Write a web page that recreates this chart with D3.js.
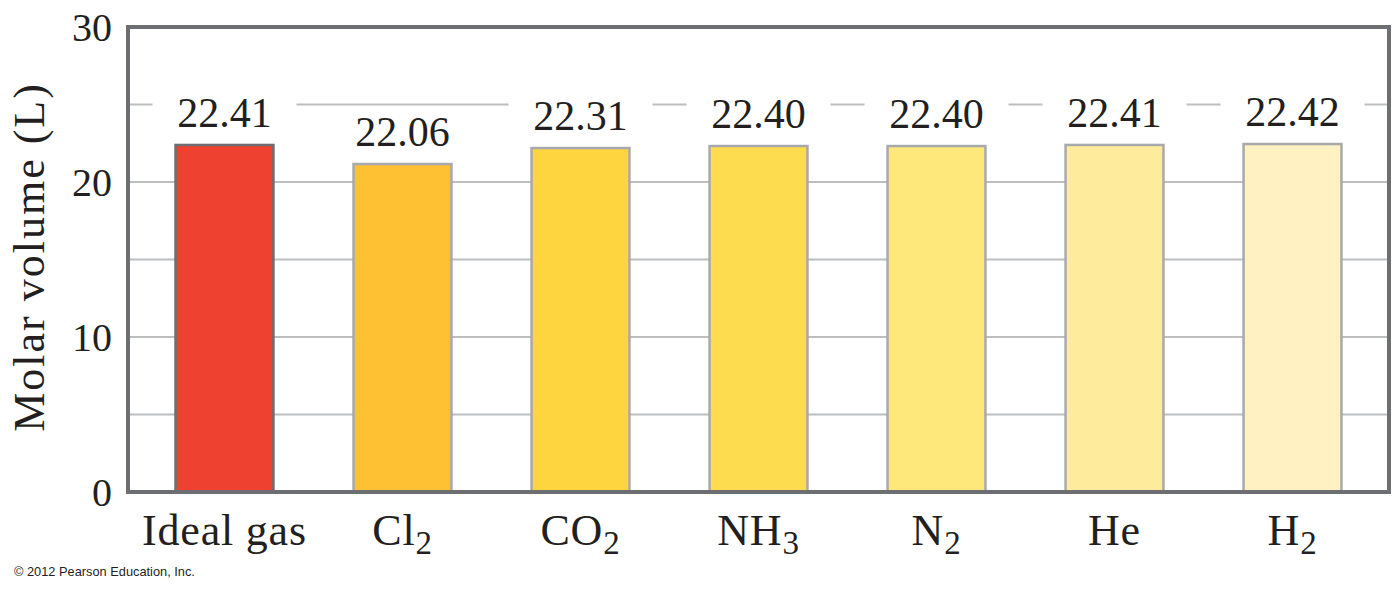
<!DOCTYPE html>
<html>
<head>
<meta charset="utf-8">
<script src="https://cdn.jsdelivr.net/npm/d3@7/dist/d3.min.js"></script>
<style>
	body { margin: 0; background: #fff; }
	text { font-family: "Liberation Serif", "Times New Roman", serif; fill: #231f20; }
</style>
</head>
<body>
<svg id="viz"></svg>
<script>
// categories, split into base text and subscript
var gasNames = ["Ideal gas", "Cl", "CO", "NH", "N", "He", "H"];
var gasSubs = ["", "2", "2", "3", "2", "", "2"];
// bar heights as drawn in the picture, and the printed values
var barValues = [22.39, 21.16, 22.19, 22.32, 22.32, 22.39, 22.45];
var valueLabels = ["22.41", "22.06", "22.31", "22.40", "22.40", "22.41", "22.42"];
var barColors = ["#ef4130", "#fec133", "#ffd53f", "#fedc50", "#fee77b", "#feec9c", "#fff1c1"];
var yTicks = [0, 10, 20, 30];
var gridTicks = [5, 10, 15, 20, 25];

var margin = { top: 27, right: 11, bottom: 97, left: 128 },
	width = 1400 - margin.left - margin.right,
	height = 589 - margin.top - margin.bottom;

var svg = d3.select('#viz')
		.attr('width', 1400)
		.attr('height', 589);
var g = svg.append('g')
		.attr('transform', 'translate(' + margin.left + ',' + margin.top + ')');

var x = d3.scaleBand()
	.domain(d3.range(gasNames.length))
	.range([0, width])
	.paddingInner(0.45)
	.paddingOuter(0.267);

var y = d3.scaleLinear()
	.domain([0, 30])
	.range([height, 0]);

// grid lines
g.selectAll(".grid")
	.data(gridTicks)
	.enter().append("line")
	.attr("class", "grid")
	.attr("x1", 0)
	.attr("x2", width)
	.attr("y1", function(d) { return y(d); })
	.attr("y2", function(d) { return y(d); })
	.attr("stroke", "#bcbec0")
	.attr("stroke-width", 2);

// bars
g.selectAll(".bar")
	.data(barValues)
	.enter().append("rect")
	.attr("class", "bar")
	.attr("x", function(d, i) { return x(i); })
	.attr("y", function(d) { return y(d); })
	.attr("width", x.bandwidth())
	.attr("height", function(d) { return height - y(d); })
	.attr("fill", function(d, i) { return barColors[i]; })
	.attr("stroke", function(d, i) { return i == 0 ? "#6d6e71" : "#a7a9ac"; })
	.attr("stroke-width", 2.5);

// white patches behind the value labels
g.selectAll(".labelBg")
	.data(barValues)
	.enter().append("rect")
	.attr("class", "labelBg")
	.attr("x", function(d, i) { return x(i) + x.bandwidth() / 2 - 72; })
	.attr("y", function(d) { return y(d) - 50; })
	.attr("width", 144)
	.attr("height", 36)
	.attr("fill", "#fff");

g.selectAll(".valueLabel")
	.data(barValues)
	.enter().append("text")
	.attr("class", "valueLabel")
	.attr("x", function(d, i) { return x(i) + x.bandwidth() / 2; })
	.attr("y", function(d) { return y(d) - 18; })
	.attr("text-anchor", "middle")
	.style("font-size", "42px")
	.text(function(d, i) { return valueLabels[i]; });

// frame
g.append("rect")
	.attr("x", 0)
	.attr("y", 0)
	.attr("width", width)
	.attr("height", height)
	.attr("fill", "none")
	.attr("stroke", "#6d6e71")
	.attr("stroke-width", 4);

// y tick labels
g.selectAll(".yTick")
	.data(yTicks)
	.enter().append("text")
	.attr("class", "yTick")
	.attr("x", -16)
	.attr("y", function(d) { return y(d); })
	.attr("dy", "0.34em")
	.attr("text-anchor", "end")
	.style("font-size", "40px")
	.text(function(d) { return d; });

// category labels with subscripts
var cats = g.selectAll(".cat")
	.data(gasNames)
	.enter().append("text")
	.attr("class", "cat")
	.attr("x", function(d, i) { return x(i) + x.bandwidth() / 2; })
	.attr("y", height + 53)
	.attr("text-anchor", "middle")
	.style("font-size", "44px")
	.style("letter-spacing", "0.8px");

cats.append("tspan")
	.text(function(d) { return d; });

cats.append("tspan")
	.attr("dy", 9)
	.style("font-size", "33px")
	.text(function(d, i) { return gasSubs[i]; });

// axis title
svg.append("text")
	.attr("transform", "translate(44,257) rotate(-90)")
	.attr("text-anchor", "middle")
	.style("font-size", "44px")
	.style("letter-spacing", "2px")
	.text("Molar volume (L)");

svg.append("text")
	.attr("x", 14)
	.attr("y", 576)
	.style("font-family", "'Liberation Sans', Arial, sans-serif")
	.style("font-size", "12.8px")
	.text("\u00a9 2012 Pearson Education, Inc.");
</script>
</body>
</html>
